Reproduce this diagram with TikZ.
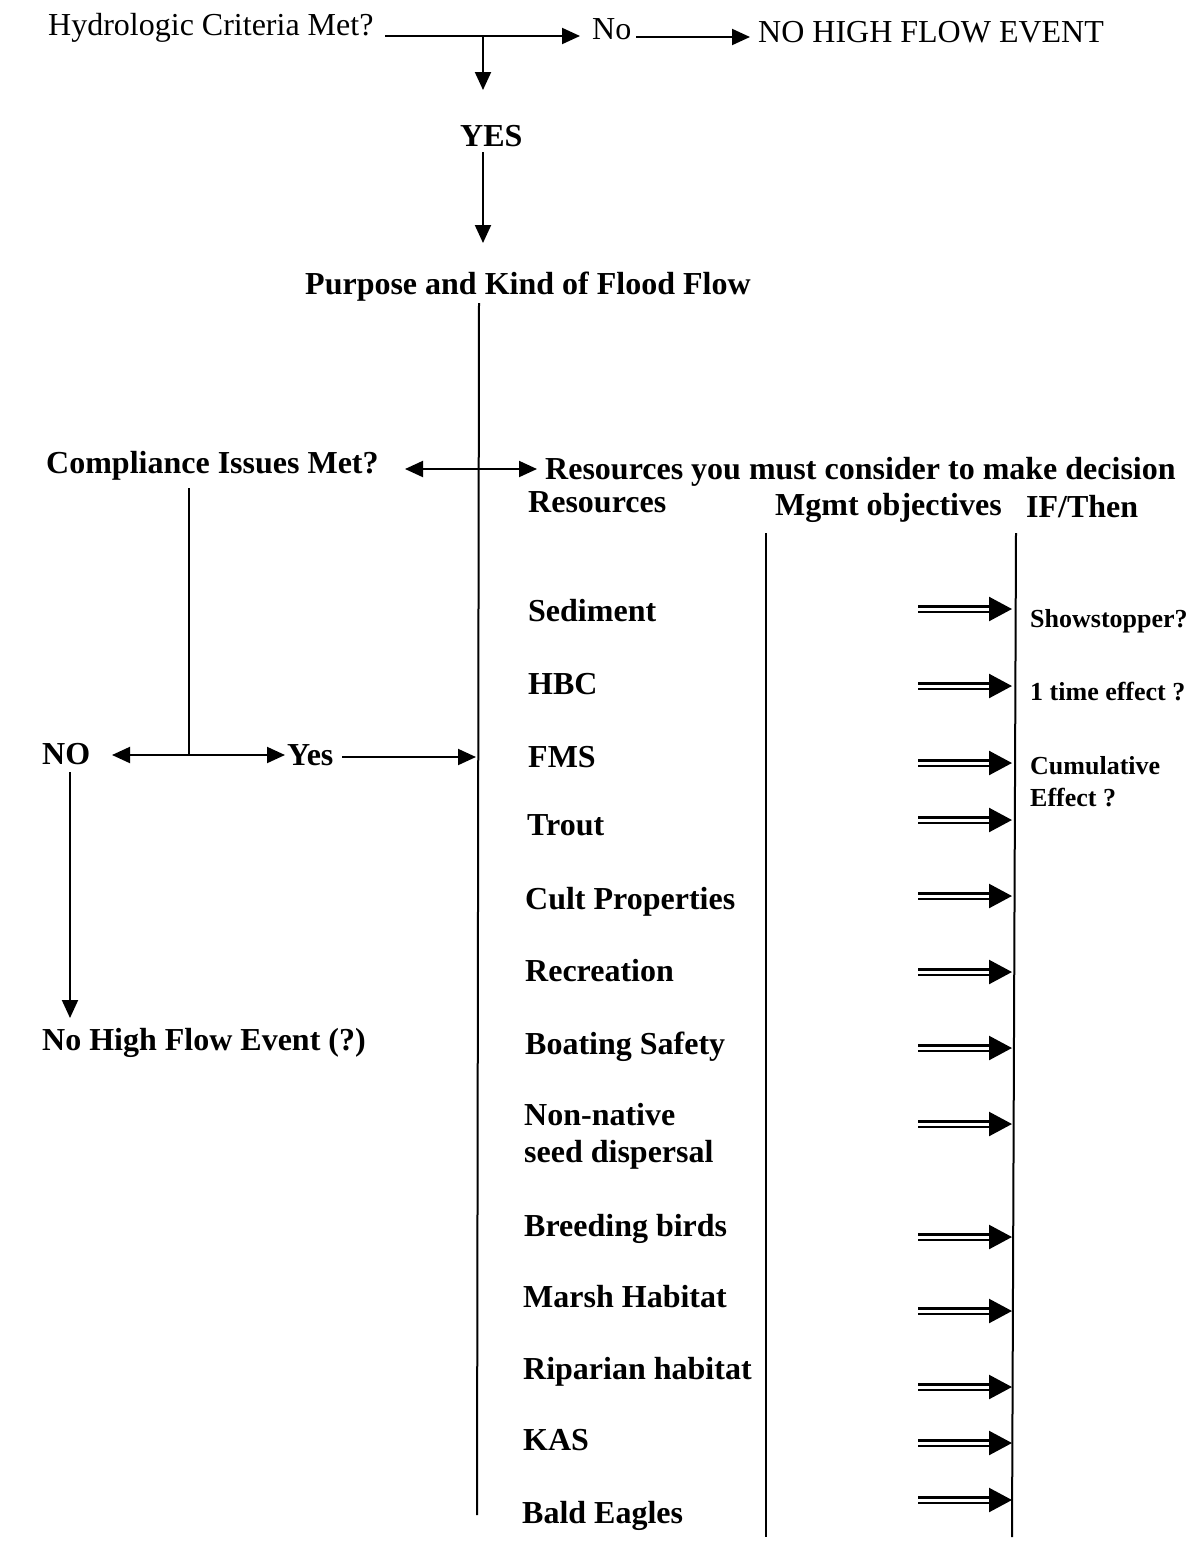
\documentclass[tikz,border=0pt]{standalone}
\usepackage{fontspec}
\setmainfont{Liberation Serif}
\usetikzlibrary{arrows.meta}
\begin{document}
\begin{tikzpicture}[x=1pt,y=-1pt,
  lbl/.style={inner sep=0pt, anchor=west, yshift=-3pt, font=\fontsize{32}{36}\selectfont, text height=22pt, text depth=7pt},
  blbl/.style={lbl, font=\fontsize{32}{36}\selectfont\bfseries},
  slbl/.style={lbl, font=\fontsize{26}{30}\selectfont\bfseries, text height=18pt, text depth=6pt},
  ln/.style={line width=2pt},
  conn/.style={ln, -{Triangle[length=18pt,width=16pt]}},
  bconn/.style={ln, {Triangle[length=18pt,width=16pt]}-{Triangle[length=18pt,width=16pt]}},
  dbl/.style={double, double distance=3pt, line width=2.4pt, -{Triangle[length=23pt,width=24pt]}}]
\useasboundingbox (0,0) rectangle (1199,1543);
% texts
\node[lbl] (hyd) at (48,25) {Hydrologic Criteria Met?};
\node[lbl] (no) at (592,29) {No};
\node[lbl] (nhfe) at (758,32) {NO HIGH FLOW EVENT};
\node[blbl] (yes) at (460,136) {YES};
\node[blbl] (purpose) at (305,284) {Purpose and Kind of Flood Flow};
\node[blbl] (comp) at (46,463) {Compliance Issues Met?};
\node[blbl] (rescon) at (545,469) {Resources you must consider to make decision};
\node[blbl] (res) at (528,502) {Resources};
\node[blbl] (mgmt) at (775,505) {Mgmt objectives};
\node[blbl] (ifthen) at (1026,507) {IF/Then};
\node[blbl] (NO) at (42,754) {NO};
\node[blbl] (Yes) at (287,755) {Yes};
\node[blbl] (nohigh) at (42,1040) {No High Flow Event (?)};
\node[blbl] (r1) at (528,611) {Sediment};
\node[blbl] (r2) at (528,684) {HBC};
\node[blbl] (r3) at (528,757) {FMS};
\node[blbl] (r4) at (527,825) {Trout};
\node[blbl] (r5) at (525,899) {Cult Properties};
\node[blbl] (r6) at (525,971) {Recreation};
\node[blbl] (r7) at (525,1044) {Boating Safety};
\node[blbl] (r8a) at (524,1115) {Non-native};
\node[blbl] (r8b) at (524,1152) {seed dispersal};
\node[blbl] (r9) at (524,1226) {Breeding birds};
\node[blbl] (r10) at (523,1297) {Marsh Habitat};
\node[blbl] (r11) at (523,1369) {Riparian habitat};
\node[blbl] (r12) at (523,1440) {KAS};
\node[blbl] (r13) at (522,1513) {Bald Eagles};
\node[slbl] (s1) at (1030,618) {Showstopper?};
\node[slbl] (s2) at (1030,691) {1 time effect ?};
\node[slbl] (s3) at (1030,765) {Cumulative};
\node[slbl] (s4) at (1030,797) {Effect ?};
% junctions
\coordinate (j1) at (483,36);
\coordinate (mtop) at (479,303);
\coordinate (mbot) at (477,1515);
\coordinate (cj) at (189,755);
% connectors
\draw[conn] (385,36) -- (580,36);
\draw[conn] (j1) -- (483,90);
\draw[conn] (636,37) -- (750,37);
\draw[conn] (483,152) -- (483,243);
\draw[ln] (mtop) -- (mbot);
\draw[bconn] (405,469) -- (537,469);
\draw[ln] (189,488) -- (cj);
\draw[bconn] (112,755) -- (285,755);
\draw[conn] (342,757) -- (476,757);
\draw[conn] (70,772) -- (70,1018);
\draw[ln] (766,533) -- (766,1537);
\draw[ln] (1016,533) -- (1012,1537);
\foreach \y in {609,686,763,820,896,972,1048,1124,1237,1311,1387,1443,1500}
  \draw[dbl] (918,\y) -- (1012,\y);
\end{tikzpicture}
\end{document}
